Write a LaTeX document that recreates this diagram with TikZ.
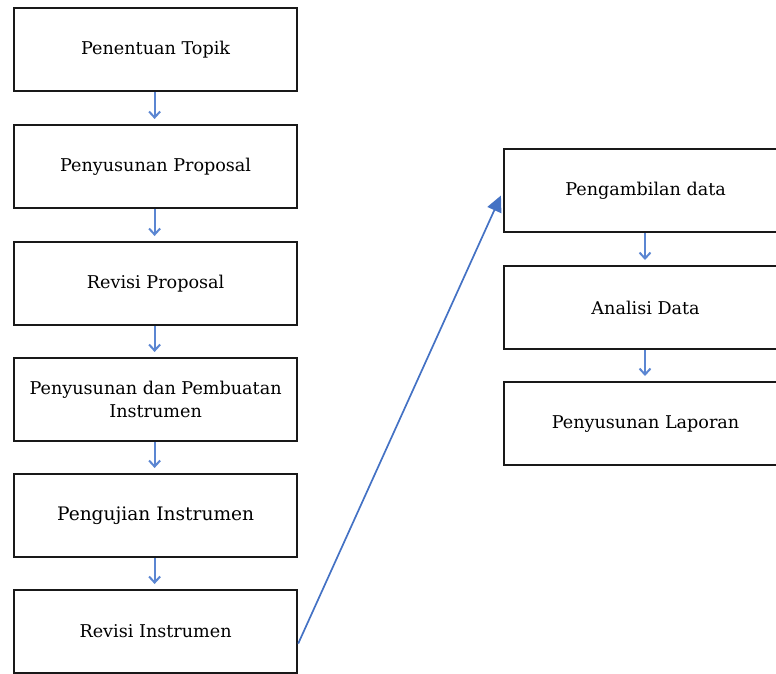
\documentclass[tikz,border=0pt]{standalone}
\usepackage{fontspec}
\setmainfont{DejaVu Serif}
\usetikzlibrary{arrows.meta}
\definecolor{arrblue}{RGB}{91,134,210}
\definecolor{longblue}{RGB}{68,114,196}
\begin{document}
\begin{tikzpicture}[x=1pt,y=-1pt,
  stepbox/.style={draw=black!90,line width=2.2pt,minimum width=283pt,minimum height=83pt,
    inner sep=0pt,align=center,anchor=north west,font=\fontsize{17.6}{23}\selectfont,fill=white},
  smallarr/.style={draw=arrblue,line width=2pt,-{Straight Barb[length=6pt,width=11pt]},shorten >=5pt},
  longarr/.style={draw=longblue,line width=1.7pt,-{Triangle[length=16pt,width=15pt]},shorten >=5pt}]
\useasboundingbox (0,0) rectangle (776,674);
\begin{scope}
\clip (0,0) rectangle (776,674);
\node[stepbox] (b1) at (13,7) {Penentuan Topik};
\node[stepbox] (b2) at (13,124) {Penyusunan Proposal};
\node[stepbox] (b3) at (13,241) {Revisi Proposal};
\node[stepbox] (b4) at (13,357) {Penyusunan dan Pembuatan\\Instrumen};
\node[stepbox,font=\fontsize{18.6}{23}\selectfont] (b5) at (13,473) {Pengujian Instrumen};
\node[stepbox] (b6) at (13,589) {Revisi Instrumen};
\node[stepbox] (c1) at (503,148) {Pengambilan data};
\node[stepbox] (c2) at (503,265) {Analisi Data};
\node[stepbox] (c3) at (503,381) {Penyusunan Laporan};
\end{scope}
\draw[smallarr] ([xshift=-1pt]b1.south) -- ([xshift=-1pt]b2.north);
\draw[smallarr] ([xshift=-1pt]b2.south) -- ([xshift=-1pt]b3.north);
\draw[smallarr] ([xshift=-1pt]b3.south) -- ([xshift=-1pt]b4.north);
\draw[smallarr] ([xshift=-1pt]b4.south) -- ([xshift=-1pt]b5.north);
\draw[smallarr] ([xshift=-1pt]b5.south) -- ([xshift=-1pt]b6.north);
\coordinate (c1s) at ([xshift=142pt]c1.south west);
\coordinate (c2n) at ([xshift=142pt]c2.north west);
\draw[smallarr] (c1s) -- (c2n);
\coordinate (c2s) at ([xshift=142pt]c2.south west);
\coordinate (c3n) at ([xshift=142pt]c3.north west);
\draw[smallarr] (c2s) -- (c3n);
\coordinate (lstart) at ([yshift=-12pt]b6.east);
\coordinate (lend) at ([yshift=-43pt]c1.north west);
\draw[longarr] (lstart) -- (lend);
\end{tikzpicture}
\end{document}
